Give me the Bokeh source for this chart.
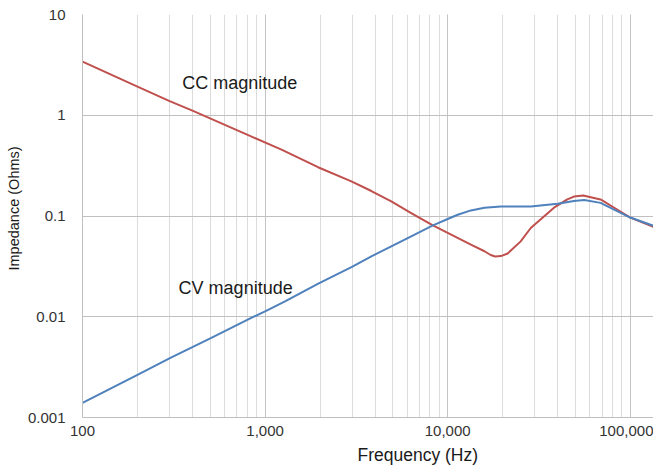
import math
from bokeh.plotting import figure
from bokeh.models import Label, CustomJSTickFormatter, Range1d, ColumnDataSource, Title
from bokeh.embed import file_html
from bokeh.resources import INLINE

# Frequency (Hz) and impedance magnitude (Ohms)
cc_freq = [100, 200, 300, 400, 850, 1230, 1950, 2970, 3820, 4910, 6310, 8300,
           10000, 13400, 15900, 17200, 18200, 19550, 21300, 25100, 28500,
           38200, 45200, 49100, 55200, 68700, 84700, 100000, 134000]
cc_mag = [3.40, 1.92, 1.38, 1.11, 0.61, 0.455, 0.305, 0.221, 0.177, 0.140,
          0.107, 0.0807, 0.068, 0.052, 0.0447, 0.0410, 0.0396, 0.0400, 0.0424,
          0.056, 0.076, 0.121, 0.146, 0.156, 0.160, 0.146, 0.116, 0.0965, 0.078]

cv_freq = [100, 200, 303, 501, 845, 1000, 1286, 1955, 2972, 3820, 4910, 6310,
           8300, 10000, 11350, 13400, 15900, 19550, 28500, 40000, 49100, 56000,
           68700, 84700, 100000, 134000]
cv_mag = [0.00140, 0.00265, 0.0039, 0.0061, 0.0098, 0.0113, 0.0142, 0.0213,
          0.0311, 0.0398, 0.050, 0.0628, 0.0807, 0.0934, 0.103, 0.1136, 0.121,
          0.1245, 0.1245, 0.132, 0.141, 0.144, 0.135, 0.112, 0.0965, 0.080]

x_limits = (100, 134000)
y_limits = (0.001, 10)

FONT = "Liberation Sans"

p = figure(width=653, height=473, x_axis_type="log", y_axis_type="log",
           x_range=Range1d(*x_limits), y_range=Range1d(*y_limits),
           output_backend="svg", toolbar_location=None,
           min_border_left=80, min_border_right=0, min_border_top=14,
           min_border_bottom=56)

p.outline_line_color = None
p.background_fill_color = "white"
p.border_fill_color = "white"

fmt = CustomJSTickFormatter(code="return Number(tick).toLocaleString('en-US', {maximumFractionDigits: 3});")
for ax in (p.xaxis[0], p.yaxis[0]):
    ax.formatter = fmt
    ax.axis_line_color = "#bfbfbf"
    ax.major_tick_line_color = None
    ax.minor_tick_line_color = None
    ax.major_tick_out = 0
    ax.major_tick_in = 0
    ax.major_label_text_font = FONT
    ax.major_label_text_font_size = "15px"
    ax.major_label_text_color = "#333333"
p.yaxis.major_label_standoff = 13
p.xaxis.major_label_standoff = 4

p.xgrid.grid_line_color = "#c4c4c4"
p.xgrid.minor_grid_line_color = "#dcdcdc"
p.ygrid.grid_line_color = "#c0c0c0"
p.ygrid.minor_grid_line_color = None

cc_src = ColumnDataSource(dict(f=cc_freq, z=cc_mag))
cv_src = ColumnDataSource(dict(f=cv_freq, z=cv_mag))
p.line("f", "z", source=cc_src, line_color="#C0504D", line_width=2, line_join="round")
p.line("f", "z", source=cv_src, line_color="#4F81BD", line_width=2, line_join="round")

p.add_layout(Label(x=352, y=2.07, text="CC magnitude", text_font=FONT,
                   text_font_size="18px", text_color="#1a1a1a",
                   text_align="left", text_baseline="alphabetic"))
p.add_layout(Label(x=336, y=0.0191, text="CV magnitude", text_font=FONT,
                   text_font_size="18px", text_color="#1a1a1a",
                   text_align="left", text_baseline="alphabetic"))

p.add_layout(Title(text="Frequency (Hz)", align="left", offset=275,
                   text_font=FONT, text_font_size="17.5px",
                   text_font_style="normal", text_color="#1a1a1a",
                   standoff=8), "below")
p.add_layout(Title(text="Impedance (Ohms)", align="left", offset=147,
                   text_font=FONT, text_font_size="14.5px",
                   text_font_style="normal", text_color="#1a1a1a",
                   standoff=6), "left")

open("out.html", "w").write(file_html(p, INLINE))
